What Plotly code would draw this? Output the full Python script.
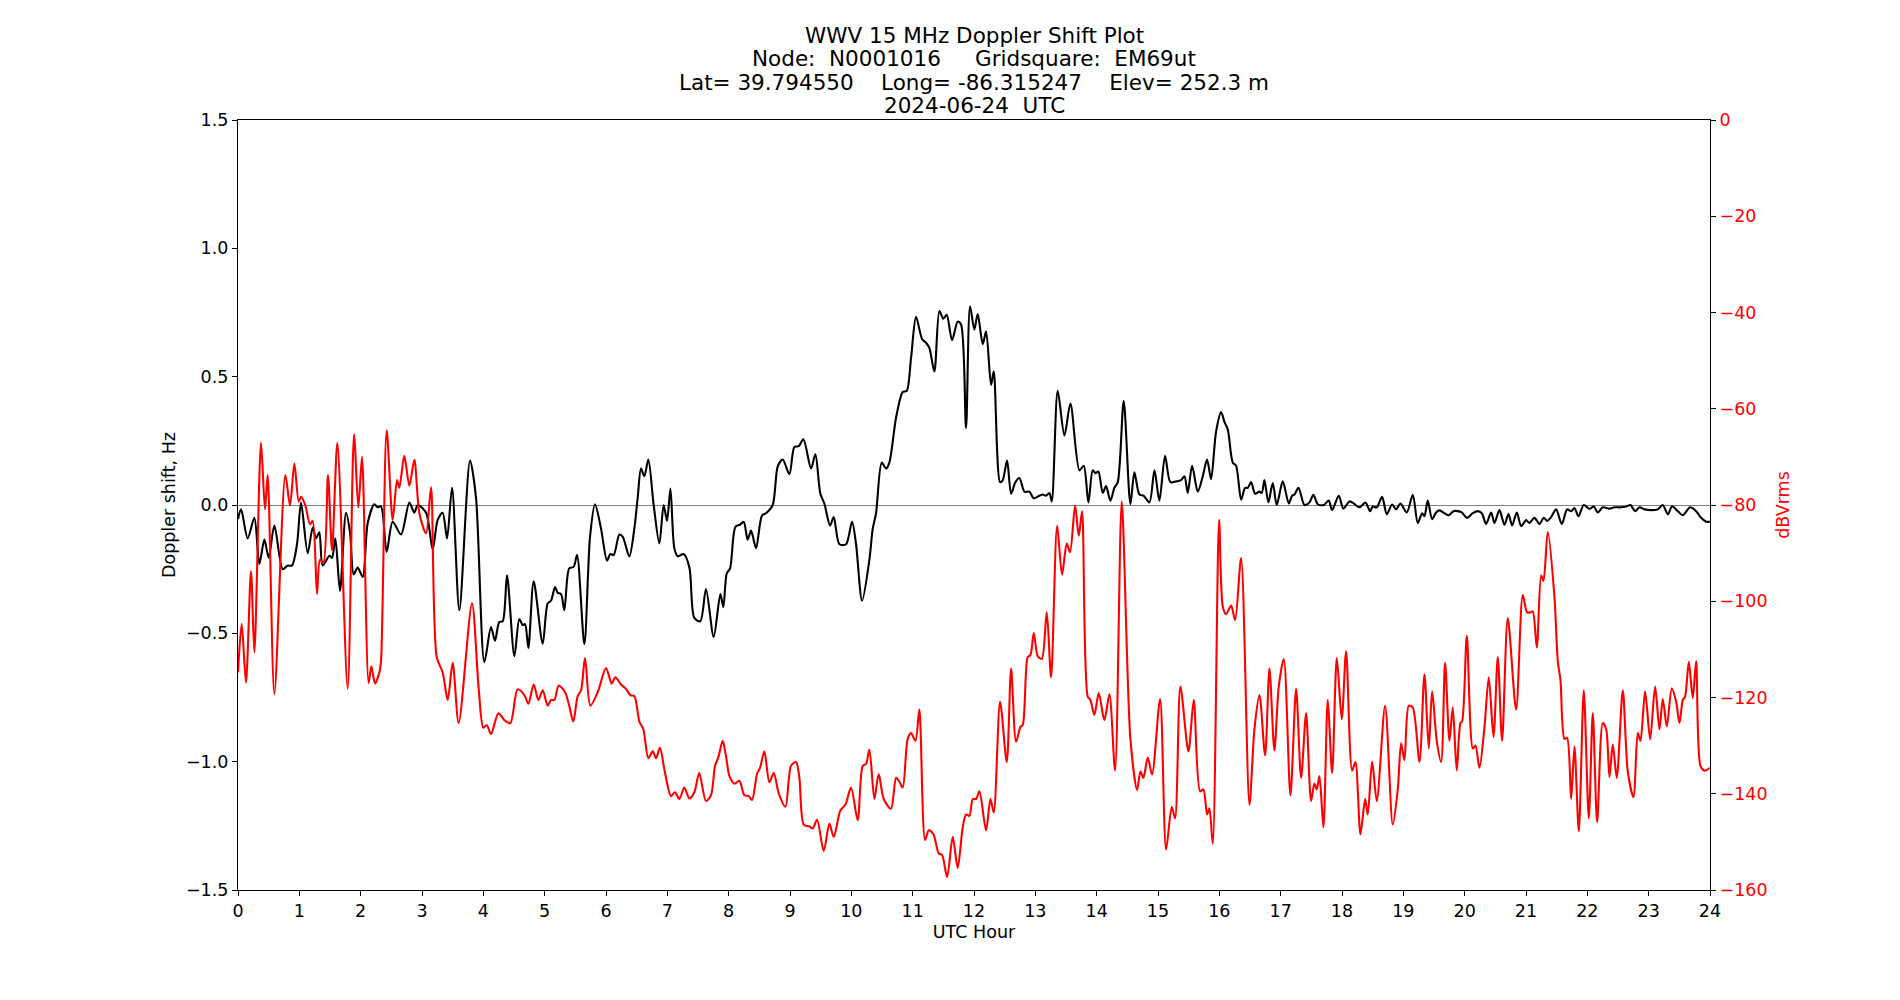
import plotly.graph_objects as go

# Doppler shift (Hz) vs UTC hour
doppler_hours = [0.0, 0.05, 0.158, 0.267, 0.348, 0.43, 0.50, 0.593, 0.729, 0.81, 0.88, 0.962, 1.028, 1.136, 1.218, 1.272, 1.326, 1.38, 1.49, 1.533, 1.587, 1.663, 1.761, 1.826, 1.886, 1.951, 2.033, 2.115, 2.223, 2.277, 2.332, 2.424, 2.522, 2.658, 2.794, 2.875, 2.93, 3.066, 3.174, 3.256, 3.337, 3.408, 3.49, 3.609, 3.783, 3.88, 4.017,
    4.125, 4.19, 4.26, 4.316, 4.386, 4.506, 4.587, 4.642, 4.68, 4.734, 4.821, 4.968, 5.05, 5.104, 5.169, 5.212, 5.267, 5.321, 5.4, 5.473, 5.528, 5.647, 5.74, 5.821, 5.919, 6.017, 6.071, 6.125, 6.218, 6.272, 6.38, 6.462, 6.517, 6.571, 6.625, 6.69, 6.777, 6.87, 6.94, 6.995, 7.05, 7.114, 7.169, 7.267, 7.36, 7.44, 7.538, 7.63, 7.756, 7.865, 7.913, 7.968,
    8.023, 8.11, 8.186, 8.245, 8.31, 8.365, 8.446, 8.544, 8.61, 8.718, 8.8, 8.881, 8.99, 9.071, 9.142, 9.218, 9.343, 9.414, 9.495, 9.56, 9.653, 9.713, 9.805, 9.914, 10.012, 10.077, 10.175, 10.294, 10.349, 10.403, 10.495, 10.566, 10.62, 10.729, 10.838, 10.903, 10.974, 11.055, 11.153, 11.218, 11.272, 11.354, 11.436, 11.5, 11.555, 11.642, 11.734, 11.789, 11.87, 11.936, 12.006, 12.06,
    12.143, 12.197, 12.278, 12.322, 12.425, 12.469, 12.539, 12.605, 12.675, 12.74, 12.822, 12.903, 12.974, 13.066, 13.12, 13.175, 13.23, 13.268, 13.365, 13.474, 13.572, 13.719, 13.789, 13.865, 13.936, 13.98, 14.028, 14.099, 14.153, 14.224, 14.289, 14.344, 14.441, 14.55, 14.615, 14.697, 14.768, 14.86, 14.942, 15.023, 15.115, 15.202, 15.295, 15.376, 15.431, 15.485, 15.556, 15.648, 15.73, 15.8, 15.865, 15.947,
    16.029, 16.083, 16.138, 16.219, 16.273, 16.355, 16.42, 16.464, 16.518, 16.583, 16.654, 16.692, 16.735, 16.8, 16.871, 16.936, 17.034, 17.132, 17.186, 17.225, 17.29, 17.388, 17.469, 17.534, 17.605, 17.703, 17.784, 17.839, 17.947, 18.023, 18.121, 18.175, 18.284, 18.382, 18.458, 18.501, 18.567, 18.654, 18.73, 18.817, 18.882, 18.953, 19.056, 19.154, 19.235, 19.306, 19.344, 19.398, 19.469, 19.534, 19.589, 19.67, 19.741, 19.817, 19.888,
    19.953, 20.04, 20.132, 20.214, 20.279, 20.35, 20.431, 20.486, 20.567, 20.649, 20.714, 20.774, 20.85, 20.921, 21.002, 21.056, 21.138, 21.22, 21.29, 21.345, 21.41, 21.491, 21.584, 21.67, 21.736, 21.79, 21.855, 21.942, 22.035, 22.105, 22.17, 22.252, 22.36, 22.442, 22.551, 22.632, 22.703, 22.779, 22.85, 22.932, 23.04, 23.149, 23.23, 23.312, 23.382, 23.475, 23.556, 23.676, 23.774, 23.855, 23.937, 24.0]

doppler_hz = [-0.055, -0.017, -0.13, -0.05, -0.23, -0.135, -0.205, -0.08, -0.25, -0.236, -0.236, -0.153, 0.01, -0.188, -0.088, -0.13, -0.106, -0.236, -0.198, -0.206, -0.13, -0.335, -0.03, -0.106, -0.27, -0.244, -0.28, -0.07, 0.003, -0.009, -0.005, -0.183, -0.065, -0.115, 0.01, -0.03, 0.0, -0.03, -0.173, -0.058, -0.03, -0.13, 0.067, -0.41, 0.173, 0.03, -0.612,
    -0.476, -0.529, -0.456, -0.453, -0.274, -0.589, -0.444, -0.468, -0.464, -0.557, -0.297, -0.54, -0.383, -0.373, -0.32, -0.342, -0.347, -0.41, -0.247, -0.241, -0.195, -0.542, -0.123, 0.003, -0.092, -0.217, -0.191, -0.195, -0.115, -0.123, -0.2, -0.092, 0.029, 0.142, 0.112, 0.177, 0.0, -0.15, 0.0, -0.062, 0.064, -0.168, -0.2, -0.191, -0.244, -0.44, -0.453, -0.327, -0.514, -0.347, -0.398, -0.267,
    -0.247, -0.085, -0.077, -0.065, -0.135, -0.1, -0.168, -0.04, -0.032, 0.0, 0.15, 0.177, 0.12, 0.226, 0.229, 0.256, 0.142, 0.198, 0.044, 0.006, -0.08, -0.047, -0.153, -0.153, -0.065, -0.153, -0.373, -0.214, -0.092, -0.032, 0.165, 0.142, 0.165, 0.34, 0.44, 0.445, 0.574, 0.733, 0.647, 0.632, 0.612, 0.52, 0.756, 0.726, 0.741, 0.642, 0.714, 0.703, 0.3, 0.774, 0.683, 0.744,
    0.627, 0.677, 0.468, 0.521, 0.089, 0.097, 0.173, 0.044, 0.089, 0.105, 0.052, 0.052, 0.026, 0.036, 0.041, 0.036, 0.047, 0.014, 0.445, 0.271, 0.395, 0.135, 0.153, 0.01, 0.135, 0.124, 0.13, 0.047, 0.074, 0.017, 0.067, 0.089, 0.405, 0.003, 0.127, 0.041, 0.036, 0.01, 0.135, 0.017, 0.192, 0.089, 0.092, 0.097, 0.112, 0.047, 0.153, 0.052, 0.112, 0.177, 0.101, 0.286,
    0.362, 0.324, 0.294, 0.165, 0.153, 0.021, 0.067, 0.067, 0.089, 0.044, 0.052, 0.047, 0.097, 0.01, 0.086, 0.0, 0.092, 0.006, 0.036, 0.041, 0.067, 0.0, 0.01, 0.04, 0.003, 0.0, 0.017, -0.02, 0.036, -0.014, 0.014, 0.009, -0.009, 0.01, -0.024, -0.006, -0.009, 0.032, -0.036, 0.002, -0.017, 0.006, -0.029, 0.04, -0.07, -0.032, -0.044, 0.017, -0.055, -0.029, -0.021, -0.032, -0.04, -0.024, -0.024,
    -0.029, -0.05, -0.032, -0.024, -0.032, -0.074, -0.029, -0.07, -0.02, -0.077, -0.035, -0.08, -0.029, -0.082, -0.059, -0.07, -0.05, -0.074, -0.05, -0.062, -0.047, -0.017, -0.074, -0.017, -0.024, -0.012, -0.044, 0.0, -0.015, -0.006, -0.029, -0.009, -0.014, -0.009, -0.009, -0.006, 0.0, -0.024, -0.009, -0.017, -0.02, -0.017, 0.0, -0.036, -0.005, -0.024, -0.04, -0.009, -0.024, -0.05, -0.065, -0.065]

# Signal level (dBVrms) vs UTC hour
power_hours = [0.0, 0.06, 0.13, 0.212, 0.267, 0.375, 0.44, 0.484, 0.593, 0.772, 0.848, 0.919, 0.99, 1.028, 1.098, 1.174, 1.218, 1.288, 1.337, 1.392, 1.467, 1.533, 1.62, 1.788, 1.892, 1.962, 2.022, 2.13, 2.174, 2.234, 2.305, 2.332, 2.424, 2.522, 2.593, 2.63, 2.712, 2.794, 2.875, 2.957, 3.066, 3.147, 3.24, 3.337, 3.419, 3.5, 3.598, 3.815, 3.924, 4.0,
    4.055, 4.125, 4.245, 4.343, 4.44, 4.56, 4.669, 4.734, 4.821, 4.897, 4.968, 5.05, 5.104, 5.158, 5.229, 5.332, 5.4, 5.468, 5.538, 5.593, 5.658, 5.745, 5.865, 6.0, 6.093, 6.153, 6.245, 6.326, 6.397, 6.462, 6.544, 6.609, 6.69, 6.761, 6.816, 6.88, 6.951, 7.06, 7.125, 7.196, 7.277, 7.36, 7.44, 7.52, 7.63, 7.712, 7.778, 7.832, 7.903,
    7.957, 8.012, 8.093, 8.175, 8.256, 8.327, 8.381, 8.463, 8.512, 8.582, 8.664, 8.735, 8.816, 8.925, 9.017, 9.099, 9.153, 9.224, 9.316, 9.37, 9.441, 9.55, 9.642, 9.713, 9.821, 9.903, 9.995, 10.104, 10.185, 10.24, 10.294, 10.376, 10.446, 10.528, 10.647, 10.729, 10.783, 10.838, 10.919, 10.974, 11.045, 11.109, 11.202, 11.262, 11.338, 11.425, 11.479, 11.561, 11.653, 11.734, 11.816, 11.87, 11.925, 11.98,
    12.034, 12.088, 12.197, 12.268, 12.322, 12.425, 12.534, 12.605, 12.686, 12.757, 12.795, 12.876, 12.92, 12.974, 13.039, 13.105, 13.186, 13.257, 13.355, 13.436, 13.512, 13.566, 13.648, 13.708, 13.762, 13.854, 13.898, 13.963, 14.034, 14.126, 14.208, 14.3, 14.409, 14.55, 14.659, 14.713, 14.762, 14.833, 14.903, 15.034, 15.132, 15.224, 15.278, 15.365, 15.496, 15.583, 15.686, 15.74, 15.8, 15.838, 15.893, 15.996,
    16.056, 16.11, 16.192, 16.257, 16.355, 16.491, 16.572, 16.654, 16.746, 16.817, 16.898, 16.969, 17.051, 17.159, 17.252, 17.333, 17.415, 17.496, 17.55, 17.589, 17.632, 17.697, 17.768, 17.839, 17.915, 17.996, 18.067, 18.165, 18.219, 18.301, 18.377, 18.42, 18.491, 18.567, 18.703, 18.828, 18.909, 18.964, 19.018, 19.089, 19.154, 19.263, 19.344, 19.415, 19.469, 19.545, 19.616, 19.681, 19.752, 19.806, 19.871,
    19.931, 19.959, 20.035, 20.133, 20.176, 20.241, 20.323, 20.393, 20.47, 20.54, 20.61, 20.703, 20.839, 20.948, 21.018, 21.073, 21.11, 21.176, 21.247, 21.285, 21.355, 21.464, 21.518, 21.562, 21.627, 21.67, 21.736, 21.79, 21.861, 21.942, 22.024, 22.089, 22.16, 22.252, 22.307, 22.361, 22.415, 22.48, 22.578, 22.66, 22.752, 22.823, 22.866, 22.942, 23.024, 23.105, 23.176, 23.23, 23.296, 23.377, 23.448, 23.502, 23.557, 23.594, 23.654, 23.719, 23.774, 23.844, 23.91, 24.0]

power_db = [-114.8, -104.7, -116.9, -93.8, -110.6, -67.0, -80.9, -73.8, -119.3, -73.8, -80.1, -71.4, -79.3, -78.3, -80.1, -84.0, -83.3, -98.5, -91.4, -92.0, -73.8, -89.4, -67.1, -118.2, -65.3, -80.5, -70.0, -117.0, -113.5, -117.1, -114.8, -112.4, -64.5, -83.1, -74.8, -76.4, -69.8, -76.0, -70.6, -81.7, -85.9, -76.3, -111.6, -114.8, -120.5, -112.8, -125.3, -100.4, -118.1, -126.3,
    -125.7, -127.6, -123.3, -124.7, -125.3, -118.3, -119.5, -121.3, -117.3, -120.5, -118.5, -121.7, -120.5, -120.5, -117.5, -118.9, -121.7, -125.0, -119.7, -118.5, -111.8, -121.7, -118.9, -113.9, -117.1, -115.8, -117.3, -118.2, -119.5, -119.7, -125.0, -126.6, -132.6, -131.2, -132.6, -130.4, -134.9, -140.5, -139.7, -141.1, -138.7, -141.0, -139.7, -135.7, -141.5, -140.3, -134.2, -132.4, -129.0,
    -132.2, -136.3, -137.9, -137.3, -140.3, -140.5, -141.3, -135.9, -134.6, -131.2, -137.6, -135.7, -139.9, -142.7, -134.2, -133.4, -136.7, -146.4, -146.8, -147.2, -145.4, -151.9, -146.2, -149.0, -143.5, -142.3, -138.7, -145.5, -134.2, -133.8, -130.8, -141.1, -135.9, -141.1, -143.1, -136.7, -137.5, -138.7, -128.6, -127.4, -129.0, -122.5, -149.6, -147.6, -148.4, -152.4, -152.7, -157.3, -149.0, -155.4, -147.0, -144.3, -144.6, -141.1,
    -141.1, -139.5, -147.6, -141.1, -143.9, -120.9, -133.4, -114.0, -129.2, -126.1, -125.7, -111.6, -111.2, -106.6, -111.4, -112.0, -102.3, -115.8, -84.3, -94.5, -88.0, -89.8, -80.1, -86.4, -81.3, -119.8, -120.5, -123.6, -119.1, -124.7, -119.3, -135.2, -79.3, -128.6, -139.2, -135.4, -136.7, -132.5, -136.0, -120.3, -151.6, -142.7, -145.1, -117.7, -131.2, -120.5, -139.5, -139.1, -144.3, -143.0, -150.4, -83.1,
    -101.1, -102.7, -100.9, -103.9, -91.0, -142.3, -126.6, -119.5, -132.0, -114.0, -131.0, -117.7, -112.0, -140.3, -118.2, -136.7, -123.3, -141.5, -137.9, -139.1, -136.3, -147.0, -120.5, -135.7, -111.8, -124.5, -110.4, -135.2, -133.4, -148.4, -141.1, -144.3, -133.3, -141.5, -121.7, -146.4, -139.1, -129.5, -133.0, -121.7, -122.1, -133.4, -115.2, -130.6, -118.7, -129.0, -133.4, -112.8, -129.0, -122.1, -135.2,
    -125.3, -124.9, -107.2, -130.6, -130.0, -134.6, -126.1, -115.8, -128.2, -111.6, -129.0, -103.5, -122.5, -98.7, -102.3, -102.3, -102.1, -109.6, -94.6, -95.8, -85.6, -99.1, -112.4, -116.4, -128.6, -128.4, -141.1, -130.2, -147.8, -118.5, -145.1, -123.3, -145.9, -125.3, -126.6, -136.5, -129.8, -136.7, -118.5, -135.4, -140.7, -127.4, -129.0, -118.7, -128.7, -117.7, -126.6, -120.3, -126.0, -118.1, -120.9, -125.3, -120.5, -119.8, -112.6, -120.1, -112.4, -134.2, -135.2, -134.6]

x_ticks = list(range(0, 25))
title_lines = [
    "WWV 15 MHz Doppler Shift Plot",
    "Node:\u00a0\u00a0N0001016\u00a0\u00a0\u00a0\u00a0\u00a0Gridsquare:\u00a0\u00a0EM69ut",
    "Lat=\u00a039.794550\u00a0\u00a0\u00a0\u00a0Long=\u00a0-86.315247\u00a0\u00a0\u00a0\u00a0Elev=\u00a0252.3\u00a0m",
    "2024-06-24\u00a0\u00a0UTC",
]

FONT = "DejaVu Sans"
TICK_SIZE = 17.5

fig = go.Figure()
fig.add_trace(go.Scatter(x=doppler_hours, y=doppler_hz, mode="lines",
                         line=dict(color="black", width=2.1, shape="spline", smoothing=0.8),
                         yaxis="y", showlegend=False, name="Doppler"))
fig.add_trace(go.Scatter(x=power_hours, y=power_db, mode="lines",
                         line=dict(color="red", width=2.1, shape="spline", smoothing=0.8),
                         yaxis="y2", showlegend=False, name="dBVrms"))

title_y_px = [35.5, 59.0, 82.5, 105.5]
for txt, ypx in zip(title_lines, title_y_px):
    fig.add_annotation(text=txt, xref="paper", yref="paper", x=0.5,
                       y=(890 - ypx) / 770.0, xanchor="center", yanchor="middle",
                       showarrow=False, font=dict(family=FONT, size=21.5, color="black"))

fig.update_layout(
    width=1900, height=1000,
    margin=dict(l=238, r=190, t=120, b=110),
    paper_bgcolor="white", plot_bgcolor="white",
    font=dict(family=FONT, size=TICK_SIZE, color="black"),
    xaxis=dict(range=[0, 24], tickvals=x_ticks, ticks="outside", ticklen=5, tickwidth=1.1,
               tickcolor="black", showline=True, linecolor="black", linewidth=1.1, mirror=True,
               showgrid=False, zeroline=False,
               title=dict(text="UTC Hour", standoff=5, font=dict(size=TICK_SIZE))),
    yaxis=dict(range=[-1.5, 1.5], dtick=0.5, tick0=0, tickformat=".1f", ticks="outside",
               ticklen=5, tickwidth=1.1, tickcolor="black", showline=True, linecolor="black",
               linewidth=1.1, showgrid=False, zeroline=True, zerolinecolor="gray",
               zerolinewidth=1.3,
               title=dict(text="Doppler shift, Hz", standoff=5, font=dict(size=TICK_SIZE))),
    yaxis2=dict(range=[-160, 0], dtick=20, tick0=0, overlaying="y", side="right",
                ticks="outside", ticklen=5, tickwidth=1.1, tickcolor="black",
                tickfont=dict(color="red", size=TICK_SIZE), showline=True, linecolor="black",
                linewidth=1.1, showgrid=False, zeroline=False,
                title=dict(text="dBVrms", standoff=10, font=dict(color="red", size=TICK_SIZE))),
)

fig.write_html("out.html")
